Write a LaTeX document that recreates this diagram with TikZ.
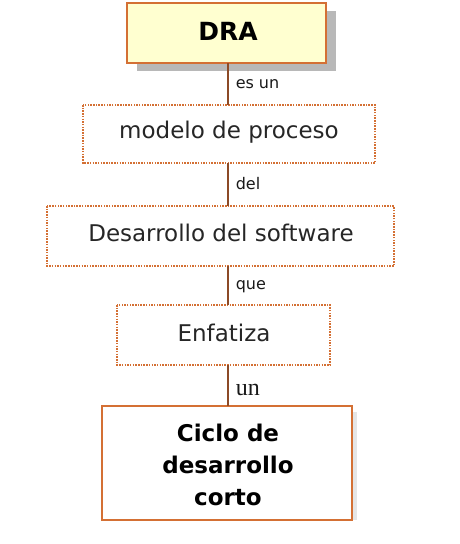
\documentclass[tikz,border=0pt]{standalone}
\usepackage{fontspec}
\setmainfont{DejaVu Sans}
\newfontfamily\serifun{Liberation Serif}
\definecolor{bord}{RGB}{212,112,52}
\definecolor{connc}{RGB}{140,74,38}
\definecolor{drafill}{RGB}{255,255,208}
\begin{document}
\begin{tikzpicture}[x=1pt,y=-1pt,
  every node/.style={inner sep=0pt},
  boxline/.style={draw=bord, line width=1.3pt},
  dotbox/.style={draw=bord, line width=1.2pt, dash pattern=on 1.5pt off 1.2pt},
  conn/.style={draw=connc, line width=1.5pt},
  lbl/.style={anchor=west, font=\fontsize{16}{18}\selectfont, text=black!90},
  maintext/.style={font=\fontsize{23}{27}\selectfont, text=black!85}
]
\useasboundingbox (0,0) rectangle (459,544);
% DRA shadow
\fill[black!28] (137,11) rectangle (336,71);
\draw[boxline, fill=drafill] (127,3) rectangle (326,63);
\node[font=\bfseries\fontsize{25}{29}\selectfont] (dra) at (228,31) {DRA};
\coordinate (draB) at (228,63);
% modelo
\draw[dotbox] (83,105) rectangle (375,163);
\node[maintext] (modelo) at (229,132) {modelo de proceso};
\coordinate (modT) at (228,105);
\coordinate (modB) at (228,163);
% desarrollo
\draw[dotbox] (47,206) rectangle (394,266);
\node[maintext] (des) at (221,233) {Desarrollo del software};
\coordinate (desT) at (228,206);
\coordinate (desB) at (228,266);
% enfatiza
\draw[dotbox] (117,305) rectangle (330,365);
\node[maintext] (enf) at (224,333) {Enfatiza};
\coordinate (enfT) at (228,305);
\coordinate (enfB) at (228,365);
% ciclo
\fill[black!10] (353,412) rectangle (357,520);
\draw[boxline] (102,406) rectangle (352,520);
\node[font=\bfseries\fontsize{23}{32}\selectfont, align=center] (ciclo) at (228,465) {Ciclo de\\desarrollo\\corto};
\coordinate (cicT) at (228,406);
% connectors
\draw[conn] (draB) -- (modT) node[pos=0.5, lbl, xshift=7pt] (l1) {es un};
\draw[conn] (modB) -- (desT) node[pos=0.47, lbl, xshift=7pt] (l2) {del};
\draw[conn] (desB) -- (enfT) node[pos=0.53, lbl, xshift=7pt] (l3) {que};
\draw[conn] (enfB) -- (cicT) node[pos=0.6, lbl, xshift=7pt, font=\serifun\fontsize{24}{26}\selectfont] (l4) {un};
\end{tikzpicture}
\end{document}
